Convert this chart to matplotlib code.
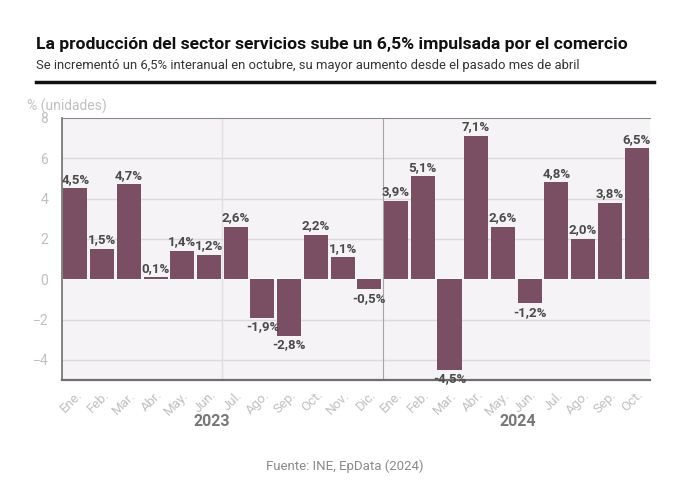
import matplotlib
matplotlib.use("Agg")
import matplotlib.pyplot as plt
from matplotlib.lines import Line2D

plt.rcParams["font.family"] = ["Roboto", "DejaVu Sans"]

months = ["Ene.", "Feb.", "Mar.", "Abr.", "May.", "Jun.", "Jul.", "Ago.", "Sep.", "Oct.", "Nov.", "Dic.",
          "Ene.", "Feb.", "Mar.", "Abr.", "May.", "Jun.", "Jul.", "Ago.", "Sep.", "Oct."]
values = [4.5, 1.5, 4.7, 0.1, 1.4, 1.2, 2.6, -1.9, -2.8, 2.2, 1.1, -0.5,
          3.9, 5.1, -4.5, 7.1, 2.6, -1.2, 4.8, 2.0, 3.8, 6.5]
years = ["2023", "2024"]
yticks = [-4, -2, 0, 2, 4, 6, 8]

bar_color = "#7b4f63"

fig = plt.figure(figsize=(6.9, 4.93), dpi=100)
ax = fig.add_axes([0.0899, 0.229, 0.852, 0.532])
ax.set_facecolor("#f5f3f6")

x = list(range(len(values)))
ax.bar(x, values, width=0.9, color=bar_color, zorder=3)

ax.set_xlim(-0.5, len(values) - 0.5)
ax.set_ylim(-5, 8)
ax.set_yticks(yticks)
ax.set_yticklabels([str(t).replace("-", "\u2212") for t in yticks])
for t in yticks:
    if t in (0, 8):
        continue
    ax.axhline(t, color="#dcd8dc", lw=1, zorder=1)
ax.axhline(0, color="white", lw=1.2, zorder=1)
ax.axvline(5.5, color="#e2dee2", lw=1, zorder=1)
ax.axvline(11.5, color="#a8a4a8", lw=0.8, zorder=1)

ax.set_xticks(x)
ax.set_xticklabels(months, rotation=45, ha="right", rotation_mode="anchor")
ax.tick_params(axis="x", length=0, pad=6, labelsize=9.5, labelcolor="#c2bec2")
ax.tick_params(axis="y", length=0, pad=10, labelsize=10, labelcolor="#c2bec2")

ax.spines["right"].set_visible(False)
ax.spines["top"].set_color("#8a8a8a")
ax.spines["top"].set_linewidth(0.8)
ax.spines["left"].set_color("#6e6e6e")
ax.spines["left"].set_linewidth(1.2)
ax.spines["bottom"].set_color("#6e6e6e")
ax.spines["bottom"].set_linewidth(1.6)

for xi, v in zip(x, values):
    label = f"{v:.1f}%".replace(".", ",")
    if v >= 0:
        ax.text(xi, v + 0.12, label, ha="center", va="bottom", fontsize=9.5,
                fontweight="bold", color="#4a4a4a", zorder=4)
    else:
        ax.text(xi, v - 0.12, label, ha="center", va="top", fontsize=9.5,
                fontweight="bold", color="#4a4a4a", zorder=4)

ax.text(5.1, -0.13, years[0], transform=ax.get_xaxis_transform(), ha="center", va="top",
        fontsize=11.5, fontweight="bold", color="#777777")
ax.text(16.55, -0.13, years[1], transform=ax.get_xaxis_transform(), ha="center", va="top",
        fontsize=11.5, fontweight="bold", color="#777777")

fig.text(36 / 690, 1 - 44 / 493, "La producción del sector servicios sube un 6,5% impulsada por el comercio",
         fontsize=12.6, fontweight="bold", color="#111111", va="center", ha="left")
fig.text(36 / 690, 1 - 66 / 493,
         "Se incrementó un 6,5% interanual en octubre, su mayor aumento desde el pasado mes de abril",
         fontsize=9.4, color="#333333", va="center", ha="left")
fig.add_artist(Line2D([36 / 690, 654 / 690], [1 - 82 / 493, 1 - 82 / 493],
                      transform=fig.transFigure, color="#111111", lw=2.5))
fig.text(27 / 690, 1 - 106 / 493, "% (unidades)", fontsize=10, color="#c2bec2", va="center", ha="left")
fig.text(345 / 690, 1 - 466 / 493, "Fuente: INE, EpData (2024)", fontsize=9.5, color="#8a8a8a",
         va="center", ha="center")

fig.savefig("out.png", dpi=100, facecolor="white")
